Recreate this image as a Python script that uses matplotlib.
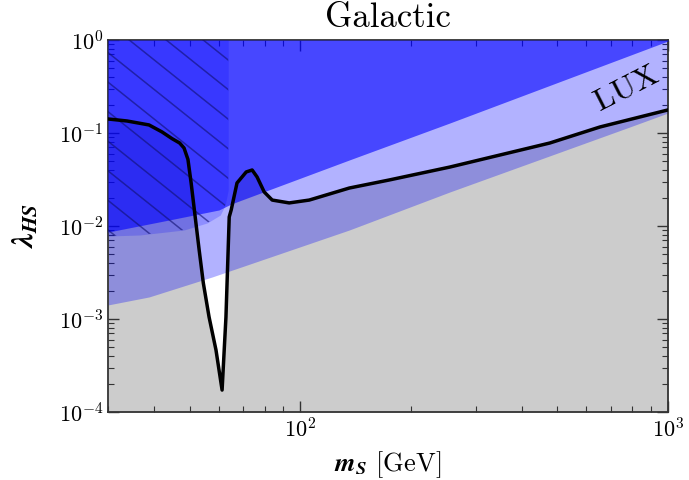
import numpy as np
import matplotlib
matplotlib.use("Agg")
import matplotlib.pyplot as plt

plt.rcParams['font.family'] = 'serif'
plt.rcParams['font.serif'] = ['cmr10', 'DejaVu Serif']
plt.rcParams['mathtext.fontset'] = 'cm'
plt.rcParams['axes.formatter.use_mathtext'] = True

# relic abundance curve (black line)
m_relic = [30, 33.8, 38.8, 42.1, 44.8, 47.0, 48.3, 49.5, 50.5, 51.8, 53.1, 54.5,
           56.5, 59.0, 61.3, 62.8, 64.1, 64.9, 67.3, 71.3, 74.0, 76.3, 79.8,
           83.9, 93.3, 105.8, 136, 175, 255, 477, 653, 1000]
lam_relic = [0.1415, 0.1346, 0.122, 0.1025, 0.087, 0.078, 0.069, 0.052, 0.029,
             0.0125, 5.52e-3, 2.44e-3, 1.05e-3, 4.64e-4, 1.72e-4, 1.05e-3, 0.0125,
             0.0149, 0.029, 0.0381, 0.040, 0.0337, 0.0232, 0.019, 0.0177, 0.019,
             0.0256, 0.0313, 0.043, 0.078, 0.116, 0.177]

# LUX lower edge
m_lux = [30, 38.8, 57.6, 136, 255, 787, 1000]
lam_lux = [1.415e-3, 1.725e-3, 2.83e-3, 9.06e-3, 0.0232, 0.116, 0.164]

# upper (dark) region lower edge
m_up = [30, 44.0, 60.1, 64.9, 136, 255, 1000]
lam_up = [8.6e-3, 0.0116, 0.01486, 0.01725, 0.0513, 0.128, 0.975]

# invisible Higgs width region (hatched)
m_inv = [30, 36.6, 48.3, 55.8, 60.6, 62.5, 63.7]
lam_inv = [7.8e-3, 8.0e-3, 9.06e-3, 0.01077, 0.0131, 0.0168, 0.0244]

fig = plt.figure(figsize=(6.89, 4.8), dpi=100)
ax = fig.add_axes([0.1567, 0.1417, 0.8128, 0.775])
ax.set_xscale('log')
ax.set_yscale('log')

ax.fill_between(m_relic, 1e-4, lam_relic, color='0.8', lw=0, zorder=1)
ax.fill_between(m_lux, lam_lux, 1.0, color='blue', alpha=0.3, lw=0, zorder=2)
ax.fill_between(m_up, lam_up, 1.0, color='blue', alpha=0.6, lw=0, zorder=3)
inv = ax.fill_between(m_inv, lam_inv, 1.0, color='blue', alpha=0.2, lw=0, zorder=4)

# sparse hatch lines clipped to the invisible width region
slope = 0.8 * 560 / 372
for t0 in np.arange(-0.9, 0.3, 0.066) + 0.08:
    xs = np.array([t0, t0 + 1.0])
    ys = 1 - (xs - t0) * slope
    ln, = ax.plot(xs, ys, transform=ax.transAxes, color='#101070', alpha=0.6,
                  lw=1.1, zorder=5)
    ln.set_clip_path(inv.get_paths()[0], inv.get_transform())

ax.plot(m_relic, lam_relic, color='black', lw=2.5, zorder=6, solid_joinstyle='round')

ax.text(770, 0.30, 'LUX', fontsize=23, rotation=27, ha='center', va='center', zorder=7)

ax.set_xlim(30, 1000)
ax.set_ylim(1e-4, 1)
ax.set_title('Galactic', fontsize=25, pad=9)
ax.set_xlabel(r'$\mathbfit{m_S}$ [GeV]', fontsize=19, math_fontfamily='stix', labelpad=6)
ax.set_ylabel(r'$\mathbfit{\lambda_{HS}}$', fontsize=22, math_fontfamily='stix', labelpad=14)

ax.tick_params(which='both', direction='in', top=True, right=True, labelsize=16, color='#333333')
ax.tick_params(which='major', length=8, width=1)
ax.tick_params(which='minor', length=4, width=0.8)
for s in ax.spines.values():
    s.set_color('#333333')
    s.set_linewidth(1.3)

fig.savefig('out.png', dpi=100)
